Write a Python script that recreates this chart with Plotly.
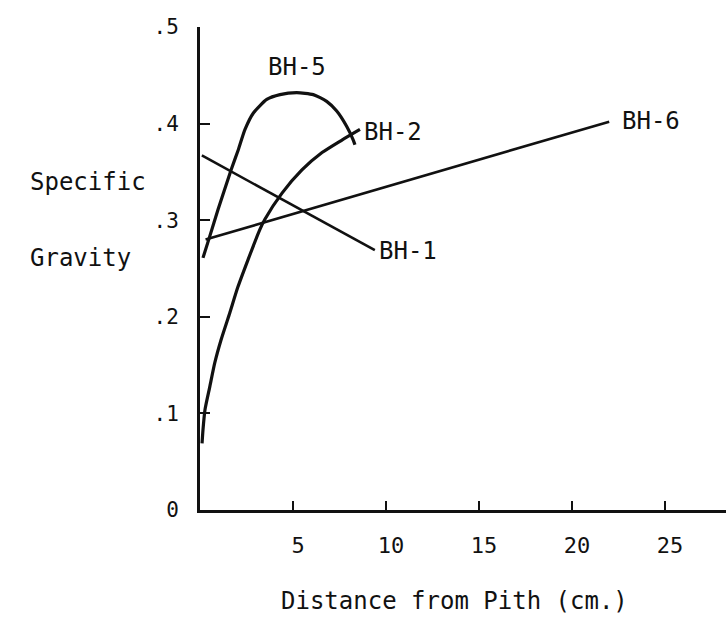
import plotly.graph_objects as go

# Data (distance from pith in cm, specific gravity)
bh5_x = [0.16, 0.52, 0.97, 1.67, 2.06, 2.42, 2.87, 3.59, 4.30, 5.20, 6.09, 6.81, 7.35, 7.89, 8.24, 8.33]
bh5_y = [0.261, 0.283, 0.311, 0.352, 0.373, 0.394, 0.411, 0.425, 0.430, 0.432, 0.430, 0.423, 0.413, 0.397, 0.383, 0.378]

bh2_x = [0.11, 0.16, 0.27, 0.52, 0.79, 1.13, 1.60, 2.04, 2.58, 3.21, 3.49, 4.41, 5.48, 6.56, 7.63, 8.60]
bh2_y = [0.069, 0.083, 0.104, 0.127, 0.152, 0.176, 0.204, 0.231, 0.259, 0.290, 0.301, 0.328, 0.352, 0.370, 0.383, 0.394]

bh1_x = [0.1, 9.4]
bh1_y = [0.367, 0.269]

bh6_x = [0.3, 22.0]
bh6_y = [0.280, 0.402]

x_ticks = [5, 10, 15, 20, 25]
y_ticks = [0, 0.1, 0.2, 0.3, 0.4, 0.5]
y_tick_text = ["0", ".1", ".2", ".3", ".4", ".5"]

series_labels = ["BH-5", "BH-2", "BH-6", "BH-1"]
label_x = [5.2, 8.7, 22.6, 9.5]
label_y = [0.459, 0.391, 0.403, 0.268]
label_anchor = ["center", "left", "left", "left"]

FONT = "DejaVu Sans Mono"
INK = "#111111"

fig = go.Figure()
for xs, ys, w, shape in [(bh5_x, bh5_y, 3.2, "spline"), (bh2_x, bh2_y, 3.2, "spline"),
                         (bh1_x, bh1_y, 2.6, "linear"), (bh6_x, bh6_y, 2.6, "linear")]:
    fig.add_trace(go.Scatter(x=xs, y=ys, mode="lines",
                             line=dict(color=INK, width=w, shape=shape, smoothing=0.6),
                             showlegend=False, hoverinfo="skip"))

for t, x, y, a in zip(series_labels, label_x, label_y, label_anchor):
    fig.add_annotation(x=x, y=y, text=t, showarrow=False, xanchor=a, yanchor="middle",
                       font=dict(family=FONT, size=24, color=INK))

fig.add_annotation(xref="paper", yref="paper", x=(28 - 200) / 526, y=(510 - 182) / 482.5,
                   text="Specific", showarrow=False, xanchor="left", yanchor="middle",
                   font=dict(family=FONT, size=24, color=INK))
fig.add_annotation(xref="paper", yref="paper", x=(28 - 200) / 526, y=(510 - 258) / 482.5,
                   text="Gravity", showarrow=False, xanchor="left", yanchor="middle",
                   font=dict(family=FONT, size=24, color=INK))
fig.add_annotation(xref="paper", yref="paper", x=(454 - 200) / 526, y=(510 - 601) / 482.5,
                   text="Distance from Pith (cm.)", showarrow=False, xanchor="center",
                   yanchor="middle", font=dict(family=FONT, size=24, color=INK))

fig.update_xaxes(range=[0, 526 / 18.6], tickvals=x_ticks, ticktext=[str(v) for v in x_ticks],
                 ticks="inside", ticklen=9, tickwidth=2, tickcolor=INK,
                 showline=True, linewidth=3, linecolor=INK, showgrid=False, zeroline=False,
                 tickfont=dict(family=FONT, size=22, color=INK), ticklabelstandoff=14,
                 ticklabelshift=5)
fig.update_yaxes(range=[0, 0.5], tickvals=y_ticks, ticktext=y_tick_text,
                 ticks="inside", ticklen=10, tickwidth=2, tickcolor=INK,
                 showline=True, linewidth=3, linecolor=INK, showgrid=False, zeroline=False,
                 tickfont=dict(family=FONT, size=21, color=INK), ticklabelstandoff=14)

fig.update_layout(width=726, height=623, margin=dict(l=200, r=0, t=27, b=113),
                  plot_bgcolor="white", paper_bgcolor="white")
fig.write_html("out.html")
